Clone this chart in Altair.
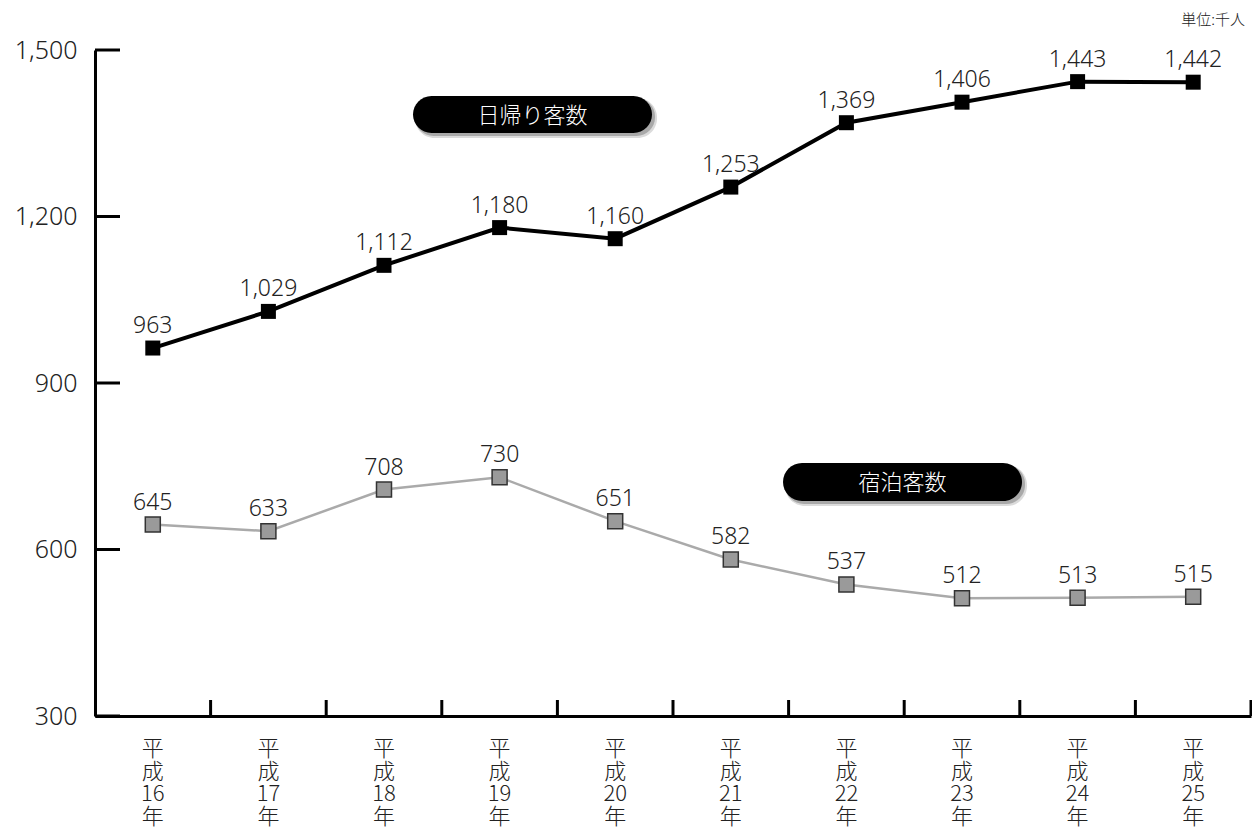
import altair as alt
import pandas as pd

years = ["平成16年", "平成17年", "平成18年", "平成19年", "平成20年",
         "平成21年", "平成22年", "平成23年", "平成24年", "平成25年"]
day_trip = [963, 1029, 1112, 1180, 1160, 1253, 1369, 1406, 1443, 1442]
overnight = [645, 633, 708, 730, 651, 582, 537, 512, 513, 515]
y_ticks = [300, 600, 900, 1200, 1500]

W, H = 1156, 666
FONT = "Noto Sans CJK JP"
NUMFONT = "Noto Sans"
FW = 300

day_df = pd.DataFrame({"year": years, "value": day_trip})
stay_df = pd.DataFrame({"year": years, "value": overnight})
tick_df = pd.DataFrame({"value": y_ticks})
xt_df = pd.DataFrame({"year": years[1:]})
lab_df = pd.DataFrame({"year": years})

xscale = alt.Scale(domain=years, type="band", paddingInner=0, paddingOuter=0)
yscale = alt.Scale(domain=[300, 1500], nice=False, zero=False)

xaxis = alt.Axis(title=None, labels=False, ticks=False, domain=True,
                 domainColor="black", domainWidth=3, grid=False)
yaxis = alt.Axis(title=None, values=y_ticks, ticks=False,
                 labelExpr="format(datum.value, ',')",
                 grid=False, domain=True, domainColor="black", domainWidth=3,
                 labelFontSize=25, labelPadding=18, labelColor="#222",
                 labelFont=NUMFONT, labelFontWeight=FW)

X = alt.X("year:N", scale=xscale, bandPosition=0.5, sort=years, axis=xaxis)
X0 = alt.X("year:N", scale=xscale, bandPosition=0, sort=years, axis=xaxis)
Y = alt.Y("value:Q", scale=yscale, axis=yaxis)

day_line = alt.Chart(day_df).mark_line(color="black", strokeWidth=4).encode(x=X, y=Y)
day_pts = alt.Chart(day_df).mark_point(shape="square", filled=True, size=225,
                                       color="black", opacity=1).encode(x=X, y=Y)
day_txt = alt.Chart(day_df).mark_text(fontSize=23, font=NUMFONT, fontWeight=FW, color="#222",
                                      baseline="alphabetic", dy=-15).encode(
    x=X, y=Y, text=alt.Text("value:Q", format=","))

stay_line = alt.Chart(stay_df).mark_line(color="#aaaaaa", strokeWidth=2.5).encode(x=X, y=Y)
stay_pts = alt.Chart(stay_df).mark_point(shape="square", filled=True, size=225,
                                         fill="#9a9a9a", stroke="#333333",
                                         strokeWidth=1.5, opacity=1).encode(x=X, y=Y)
stay_txt = alt.Chart(stay_df).mark_text(fontSize=23, font=NUMFONT, fontWeight=FW, color="#222",
                                        baseline="alphabetic", dy=-15).encode(
    x=X, y=Y, text=alt.Text("value:Q", format=","))

ytick_rules = alt.Chart(tick_df).mark_rule(color="black", strokeWidth=3).encode(
    y=Y, x=alt.value(0), x2=alt.value(25))
xtick_rules = alt.Chart(xt_df).mark_rule(color="black", strokeWidth=3).encode(
    x=X0, y=alt.value(H - 16), y2=alt.value(H))
xtick_last = alt.Chart(pd.DataFrame({"k": [0]})).mark_rule(color="black", strokeWidth=3).encode(
    x=alt.value(W), y=alt.value(H - 16), y2=alt.value(H))

xlabels = alt.Chart(lab_df).transform_calculate(
    lab="['平', '成', slice(datum.year, 2, 4), '年']"
).mark_text(fontSize=22, font=FONT, fontWeight=FW, color="#222", align="center",
            baseline="top", lineHeight=22.5).encode(
    x=X, y=alt.value(H + 23), text="lab:N")


def pill(x1, x2, y1, y2, label):
    cx, cy = (x1 + x2) / 2, (y1 + y2) / 2
    one = pd.DataFrame({"t": [label]})
    r = (y2 - y1) / 2
    sh1 = alt.Chart(one).mark_rect(color="#999", opacity=0.35, cornerRadius=r + 1).encode(
        x=alt.value(x1 + 2), x2=alt.value(x2 + 5), y=alt.value(y1 + 2), y2=alt.value(y2 + 5))
    sh2 = alt.Chart(one).mark_rect(color="#777", opacity=0.5, cornerRadius=r).encode(
        x=alt.value(x1 + 2), x2=alt.value(x2 + 3), y=alt.value(y1 + 2), y2=alt.value(y2 + 3))
    body = alt.Chart(one).mark_rect(color="black", cornerRadius=r).encode(
        x=alt.value(x1), x2=alt.value(x2), y=alt.value(y1), y2=alt.value(y2))
    txt = alt.Chart(one).mark_text(color="white", fontSize=22, font=FONT, fontWeight=FW,
                                   align="center", baseline="middle").encode(
        x=alt.value(cx), y=alt.value(cy + 1), text="t:N")
    return sh1 + sh2 + body + txt


pill_day = pill(318, 557, 46, 83, "日帰り客数")
pill_stay = pill(688, 927, 413, 451, "宿泊客数")

unit = alt.Chart(pd.DataFrame({"t": ["単位:千人"]})).mark_text(
    fontSize=15, font=FONT, fontWeight=FW, color="#222", align="right",
    baseline="middle").encode(
    x=alt.value(W - 6), y=alt.value(-30), text="t:N")

chart = alt.layer(
    ytick_rules, xtick_rules, xtick_last,
    stay_line, stay_pts, stay_txt,
    day_line, day_pts, day_txt,
    xlabels,
    pill_day, pill_stay, unit,
).properties(
    width=W, height=H,
    background="white",
    autosize=alt.AutoSizeParams(type="none"),
    padding={"left": 87, "top": 42, "right": 1, "bottom": 113},
).configure_view(stroke=None)

chart.save("out.html", embed_options={"renderer": "svg", "actions": False})
